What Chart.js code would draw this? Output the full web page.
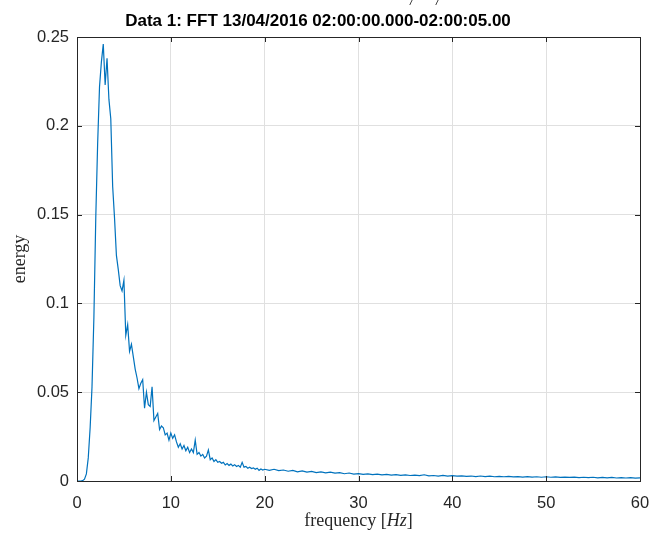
<!DOCTYPE html>
<html>
<head>
<meta charset="utf-8">
<script src="https://cdn.jsdelivr.net/npm/chart.js@4"></script>
<style>
  body { margin: 0; background: #fff; }
  canvas { display: block; }
</style>
</head>
<body>
<canvas id="fftChart" width="652" height="533"></canvas>
<script>
const TITLE = 'Data 1: FFT 13/04/2016 02:00:00.000-02:00:05.00';

// 0 - 20 Hz, 0.2 Hz spacing
const freqLow = [
    0, 0.2, 0.4, 0.6, 0.8, 1.0, 1.2, 1.4, 1.6, 1.8,
    2.0, 2.2, 2.4, 2.6, 2.8, 3.0, 3.2, 3.4, 3.6, 3.8,
    4.0, 4.2, 4.4, 4.6, 4.8, 5.0, 5.2, 5.4, 5.6, 5.8,
    6.0, 6.2, 6.4, 6.6, 6.8, 7.0, 7.2, 7.4, 7.6, 7.8,
    8.0, 8.2, 8.4, 8.6, 8.8, 9.0, 9.2, 9.4, 9.6, 9.8,
    10.0, 10.2, 10.4, 10.6, 10.8, 11.0, 11.2, 11.4, 11.6, 11.8,
    12.0, 12.2, 12.4, 12.6, 12.8, 13.0, 13.2, 13.4, 13.6, 13.8,
    14.0, 14.2, 14.4, 14.6, 14.8, 15.0, 15.2, 15.4, 15.6, 15.8,
    16.0, 16.2, 16.4, 16.6, 16.8, 17.0, 17.2, 17.4, 17.6, 17.8,
    18.0, 18.2, 18.4, 18.6, 18.8, 19.0, 19.2, 19.4, 19.6, 19.8,
    20.0
];
const energyLow = [
    0, 0, 0, 0.0002, 0.001, 0.004, 0.013, 0.030, 0.053, 0.092,
    0.148, 0.190, 0.222, 0.236, 0.246, 0.223, 0.238, 0.215, 0.204, 0.166,
    0.148, 0.127, 0.119, 0.110, 0.107, 0.113, 0.082, 0.088, 0.073, 0.077,
    0.070, 0.063, 0.058, 0.052, 0.055, 0.057, 0.041, 0.050, 0.043, 0.042,
    0.053, 0.034, 0.036, 0.038, 0.029, 0.031, 0.030, 0.026, 0.027, 0.023,
    0.027, 0.024, 0.026, 0.022, 0.019, 0.021, 0.018, 0.020, 0.017, 0.019,
    0.016, 0.018, 0.016, 0.023, 0.015, 0.016, 0.014, 0.015, 0.013, 0.014,
    0.0175, 0.012, 0.013, 0.011, 0.012, 0.0105, 0.011, 0.010, 0.0105, 0.009,
    0.0098, 0.0088, 0.0095, 0.0085, 0.0092, 0.0082, 0.0088, 0.0078, 0.0105, 0.0078,
    0.0082, 0.0072, 0.0078, 0.0070, 0.0074, 0.0066, 0.0072, 0.0060, 0.0068, 0.0062,
    0.0066
];

// 20.5 - 60 Hz, 0.5 Hz spacing
const freqHigh = [
    20.5, 21, 21.5, 22, 22.5, 23, 23.5, 24, 24.5, 25,
    25.5, 26, 26.5, 27, 27.5, 28, 28.5, 29, 29.5, 30,
    30.5, 31, 31.5, 32, 32.5, 33, 33.5, 34, 34.5, 35,
    35.5, 36, 36.5, 37, 37.5, 38, 38.5, 39, 39.5, 40,
    40.5, 41, 41.5, 42, 42.5, 43, 43.5, 44, 44.5, 45,
    45.5, 46, 46.5, 47, 47.5, 48, 48.5, 49, 49.5, 50,
    50.5, 51, 51.5, 52, 52.5, 53, 53.5, 54, 54.5, 55,
    55.5, 56, 56.5, 57, 57.5, 58, 58.5, 59, 59.5, 60
];
const energyHigh = [
    0.0060, 0.0066, 0.0058, 0.0062, 0.0055, 0.0060, 0.0052, 0.0057, 0.0050, 0.0054,
    0.0047, 0.0051, 0.0046, 0.0050, 0.0044, 0.0047, 0.0041, 0.0045, 0.0039, 0.0042,
    0.0037, 0.0040, 0.0036, 0.0039, 0.0034, 0.0037, 0.0033, 0.0036, 0.0032, 0.0034,
    0.0031, 0.0033, 0.0030, 0.0035, 0.0029, 0.0031, 0.0028, 0.0032, 0.0027, 0.0030,
    0.0027, 0.0029, 0.0026, 0.0028, 0.0025, 0.0028, 0.0025, 0.0027, 0.0024, 0.0026,
    0.0024, 0.0026, 0.0023, 0.0025, 0.0022, 0.0025, 0.0022, 0.0024, 0.0021, 0.0024,
    0.0021, 0.0023, 0.0020, 0.0022, 0.0020, 0.0022, 0.0019, 0.0021, 0.0019, 0.0021,
    0.0018, 0.0020, 0.0018, 0.0020, 0.0017, 0.0019, 0.0017, 0.0019, 0.0016, 0.0018
];

const xTicks = [0, 10, 20, 30, 40, 50, 60];
const yTicks = [0, 0.05, 0.1, 0.15, 0.2, 0.25];
const yTickLabels = ['0', '0.05', '0.1', '0.15', '0.2', '0.25'];

(function () {
    const freqs = freqLow.concat(freqHigh);
    const energy = energyLow.concat(energyHigh);
    const points = freqs.map((f, i) => ({ x: f, y: energy[i] }));

    const AXIS_COLOR = '#262626';
    const TICK_FONT = { family: 'Liberation Sans, Arial, sans-serif', size: 16.5 };

    // box, inward ticks, title and the LaTeX-ish axis labels, MATLAB style
    const matlabFrame = {
        id: 'matlabFrame',
        afterDraw(chart) {
            const ctx = chart.ctx;
            const a = chart.chartArea;
            const xs = chart.scales.x, ys = chart.scales.y;
            const len = 5;
            ctx.save();
            ctx.strokeStyle = AXIS_COLOR;
            ctx.lineWidth = 1;
            ctx.beginPath();
            xTicks.forEach(v => {
                const px = Math.round(xs.getPixelForValue(v)) + 0.5;
                ctx.moveTo(px, a.bottom); ctx.lineTo(px, a.bottom - len);
                ctx.moveTo(px, a.top); ctx.lineTo(px, a.top + len);
            });
            yTicks.forEach(v => {
                const py = Math.round(ys.getPixelForValue(v)) + 0.5;
                ctx.moveTo(a.left, py); ctx.lineTo(a.left + len, py);
                ctx.moveTo(a.right, py); ctx.lineTo(a.right - len, py);
            });
            ctx.stroke();
            ctx.strokeRect(Math.round(a.left) + 0.5, Math.round(a.top) + 0.5,
                Math.round(a.right - a.left), Math.round(a.bottom - a.top));

            // title
            ctx.fillStyle = '#000';
            ctx.font = 'bold 17px "Liberation Sans", Arial, sans-serif';
            ctx.textAlign = 'center';
            ctx.textBaseline = 'alphabetic';
            ctx.fillText(TITLE, 318, 26);
            // bits of cut off text above the title
            ctx.font = 'italic 14px "Liberation Serif", serif';
            ctx.fillText('/', 412, 5);
            ctx.fillText('/', 438, 5);

            // x label: frequency [Hz]
            ctx.fillStyle = AXIS_COLOR;
            const serif = '"Liberation Serif", "Times New Roman", serif';
            const parts = [
                { t: 'frequency ', f: '18px ' + serif },
                { t: '[', f: '18px ' + serif },
                { t: 'Hz', f: 'italic 18px ' + serif },
                { t: ']', f: '18px ' + serif }
            ];
            let total = 0;
            parts.forEach(p => { ctx.font = p.f; p.w = ctx.measureText(p.t).width; total += p.w; });
            let x = (a.left + a.right) / 2 - total / 2;
            ctx.textAlign = 'left';
            parts.forEach(p => { ctx.font = p.f; ctx.fillText(p.t, x, 526); x += p.w; });

            // y label: energy
            ctx.translate(25, (a.top + a.bottom) / 2);
            ctx.rotate(-Math.PI / 2);
            ctx.font = '18px ' + serif;
            ctx.textAlign = 'center';
            ctx.fillText('energy', 0, 0);
            ctx.restore();
        }
    };

    new Chart(document.getElementById('fftChart').getContext('2d'), {
        type: 'line',
        data: {
            datasets: [{
                label: 'energy',
                data: points,
                borderColor: '#0072BD',
                borderWidth: 1.2,
                pointRadius: 0,
                tension: 0,
                fill: false
            }]
        },
        options: {
            responsive: false,
            animation: false,
            devicePixelRatio: 1,
            layout: { padding: { left: 0, right: 12, top: 37, bottom: 0 } },
            plugins: { legend: { display: false }, title: { display: false }, tooltip: { enabled: false } },
            scales: {
                x: {
                    type: 'linear',
                    min: 0, max: 60,
                    afterBuildTicks: s => { s.ticks = xTicks.map(v => ({ value: v })); },
                    afterFit: s => { s.height = 52; s.paddingLeft = 0; s.paddingRight = 0; },
                    grid: { color: '#e0e0e0', drawTicks: false },
                    border: { display: false },
                    ticks: { color: AXIS_COLOR, font: TICK_FONT, padding: 13, maxRotation: 0,
                        callback: v => String(v) }
                },
                y: {
                    type: 'linear',
                    min: 0, max: 0.25,
                    afterBuildTicks: s => { s.ticks = yTicks.map(v => ({ value: v })); },
                    afterFit: s => { s.width = 77; s.paddingTop = 0; s.paddingBottom = 0; },
                    grid: { color: '#e0e0e0', drawTicks: false },
                    border: { display: false },
                    ticks: { color: AXIS_COLOR, font: TICK_FONT, padding: 8,
                        callback: v => yTickLabels[yTicks.indexOf(v)] }
                }
            }
        },
        plugins: [matlabFrame]
    });
})();
</script>
</body>
</html>
